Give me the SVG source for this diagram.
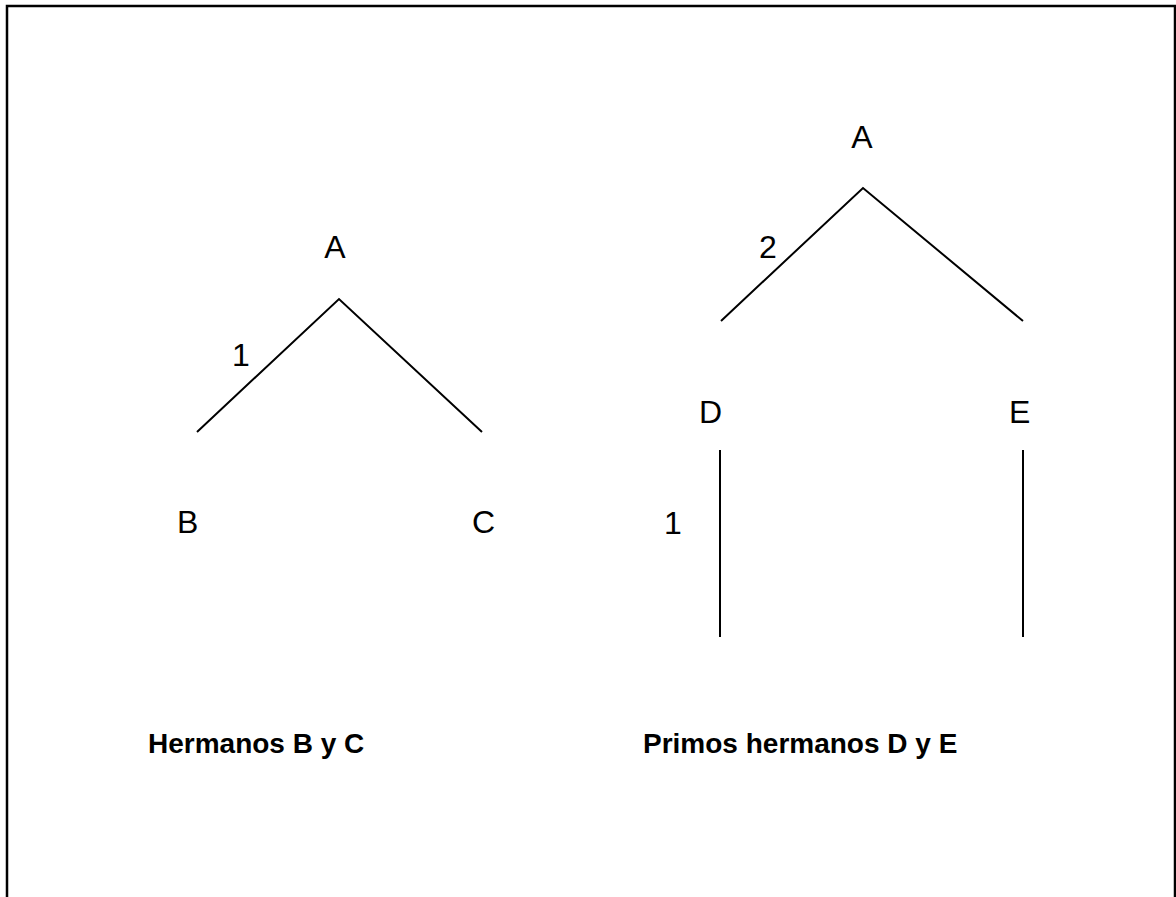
<svg xmlns="http://www.w3.org/2000/svg" width="1176" height="897" viewBox="0 0 1176 897">
<style>
.t{font-family:"Liberation Sans",Arial,sans-serif;font-size:32px;fill:#000}
.b{font-family:"Liberation Sans",Arial,sans-serif;font-size:28px;font-weight:bold;fill:#000}
.c{stroke:#000;stroke-width:2;fill:none}
</style>
<rect x="0" y="0" width="1176" height="897" fill="#fff"/>
<rect x="7" y="6" width="1168" height="1000" fill="none" stroke="#000" stroke-width="2.5"/>
<g id="connectors">
<polyline class="c" points="197,432 339,299 482,432"/>
<polyline class="c" points="721,321 863,188 1023,321"/>
<line class="c" x1="720" y1="450" x2="720" y2="637"/>
<line class="c" x1="1023" y1="450" x2="1023" y2="637"/>
</g>
<g id="left-A"><text class="t" x="335" y="258" text-anchor="middle">A</text></g>
<g id="left-B"><text class="t" x="177" y="533">B</text></g>
<g id="left-C"><text class="t" x="472" y="533">C</text></g>
<g id="label-1a"><text class="t" x="232" y="366">1</text></g>
<g id="right-A"><text class="t" x="862" y="148" text-anchor="middle">A</text></g>
<g id="label-2"><text class="t" x="759" y="258">2</text></g>
<g id="right-D"><text class="t" x="699" y="423">D</text></g>
<g id="right-E"><text class="t" x="1009" y="423">E</text></g>
<g id="label-1b"><text class="t" x="664" y="534">1</text></g>
<g id="caption-left"><text class="b" x="148" y="753">Hermanos B y C</text></g>
<g id="caption-right"><text class="b" x="643" y="753">Primos hermanos D y E</text></g>
</svg>
